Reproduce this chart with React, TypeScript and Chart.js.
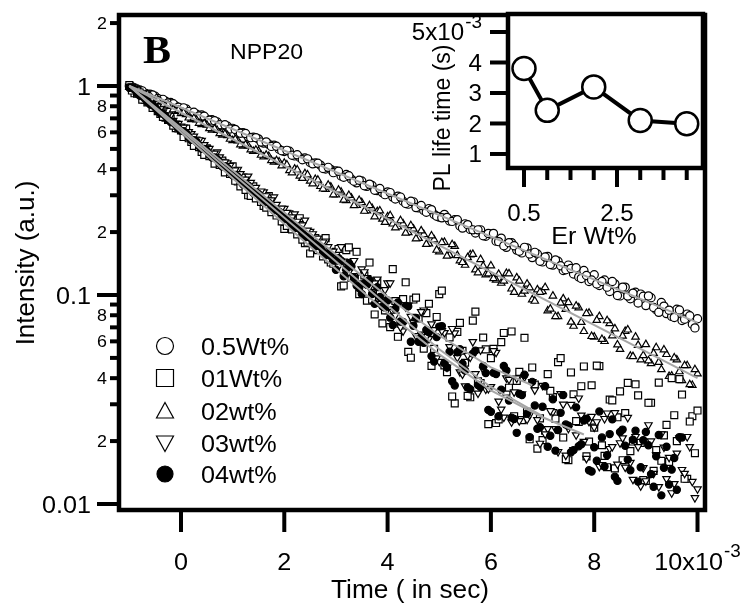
import React, { useEffect, useRef } from "react";
import { Chart, registerables } from "chart.js";
Chart.register(...registerables);

// ---------- DATA ----------
const TIME = [
  -1.0, -0.9, -0.8, -0.7, -0.6, -0.5, -0.4, -0.3, -0.2, -0.1,
  0.0, 0.1, 0.2, 0.3, 0.4, 0.5, 0.6, 0.7, 0.8, 0.9,
  1.0, 1.1, 1.2, 1.3, 1.4, 1.5, 1.6, 1.7, 1.8, 1.9,
  2.0, 2.1, 2.2, 2.3, 2.4, 2.5, 2.6, 2.7, 2.8, 2.9,
  3.0, 3.1, 3.2, 3.3, 3.4, 3.5, 3.6, 3.7, 3.8, 3.9,
  4.0, 4.1, 4.2, 4.3, 4.4, 4.5, 4.6, 4.7, 4.8, 4.9,
  5.0, 5.1, 5.2, 5.3, 5.4, 5.5, 5.6, 5.7, 5.8, 5.9,
  6.0, 6.1, 6.2, 6.3, 6.4, 6.5, 6.6, 6.7, 6.8, 6.9,
  7.0, 7.1, 7.2, 7.3, 7.4, 7.5, 7.6, 7.7, 7.8, 7.9,
  8.0, 8.1, 8.2, 8.3, 8.4, 8.5, 8.6, 8.7, 8.8, 8.9,
  9.0, 9.1, 9.2, 9.3, 9.4, 9.5, 9.6, 9.7, 9.8, 9.9,
  10.0,
];
// in-between samples, early part
const TIME_HALF_EARLY_LOW = [
  -0.95, -0.85, -0.75, -0.65, -0.55, -0.45, -0.35, -0.25, -0.15, -0.05,
  0.05, 0.15, 0.25, 0.35, 0.45, 0.55, 0.65, 0.75, 0.85, 0.95,
  1.05, 1.15, 1.25, 1.35, 1.45, 1.55, 1.65, 1.75, 1.85, 1.95,
  2.05, 2.15, 2.25, 2.35, 2.45, 2.55, 2.65, 2.75, 2.85, 2.95,
];
const TIME_HALF_EARLY_UP = [
  -0.95, -0.85, -0.75, -0.65, -0.55, -0.45, -0.35, -0.25, -0.15, -0.05,
  0.05, 0.15, 0.25, 0.35, 0.45, 0.55, 0.65, 0.75, 0.85, 0.95,
  1.05, 1.15, 1.25, 1.35, 1.45, 1.55, 1.65, 1.75, 1.85, 1.95,
  2.05, 2.15, 2.25, 2.35, 2.45, 2.55, 2.65, 2.75, 2.85, 2.95,
  3.05, 3.15, 3.25, 3.35, 3.45, 3.55, 3.65, 3.75, 3.85, 3.95,
  4.05, 4.15, 4.25, 4.35, 4.45, 4.55, 4.65, 4.75, 4.85, 4.95,
];
// in-between samples, late part
const TIME_HALF_LOW = [
  3.05, 3.15, 3.25, 3.35, 3.45, 3.55, 3.65, 3.75, 3.85, 3.95,
  4.05, 4.15, 4.25, 4.35, 4.45, 4.55, 4.65, 4.75, 4.85, 4.95,
  5.05, 5.15, 5.25, 5.35, 5.45, 5.55, 5.65, 5.75, 5.85, 5.95,
  6.05, 6.15, 6.25, 6.35, 6.45, 6.55, 6.65, 6.75, 6.85, 6.95,
  7.05, 7.15, 7.25, 7.35, 7.45, 7.55, 7.65, 7.75, 7.85, 7.95,
  8.05, 8.15, 8.25, 8.35, 8.45, 8.55, 8.65, 8.75, 8.85, 8.95,
  9.05, 9.15, 9.25, 9.35, 9.45, 9.55, 9.65, 9.75, 9.85, 9.95,
];
const TIME_HALF_UP = [
  5.05, 5.15, 5.25, 5.35, 5.45, 5.55, 5.65, 5.75, 5.85, 5.95,
  6.05, 6.15, 6.25, 6.35, 6.45, 6.55, 6.65, 6.75, 6.85, 6.95,
  7.05, 7.15, 7.25, 7.35, 7.45, 7.55, 7.65, 7.75, 7.85, 7.95,
  8.05, 8.15, 8.25, 8.35, 8.45, 8.55, 8.65, 8.75, 8.85, 8.95,
  9.05, 9.15, 9.25, 9.35, 9.45, 9.55, 9.65, 9.75, 9.85, 9.95,
];

const WT05 = [
  1.0, 0.972, 0.958, 0.922, 0.914, 0.893, 0.861, 0.846, 0.834, 0.802,
  0.781, 0.777, 0.746, 0.733, 0.726, 0.694, 0.689, 0.672, 0.645, 0.642,
  0.627, 0.603, 0.597, 0.571, 0.569, 0.558, 0.533, 0.526, 0.521, 0.498,
  0.486, 0.487, 0.463, 0.455, 0.452, 0.431, 0.428, 0.418, 0.401, 0.399,
  0.392, 0.371, 0.377, 0.358, 0.344, 0.351, 0.331, 0.334, 0.316, 0.309,
  0.311, 0.294, 0.297, 0.281, 0.272, 0.279, 0.261, 0.254, 0.259, 0.243,
  0.236, 0.243, 0.226, 0.229, 0.214, 0.219, 0.206, 0.198, 0.205, 0.191,
  0.196, 0.181, 0.187, 0.169, 0.178, 0.164, 0.159, 0.168, 0.151, 0.157,
  0.144, 0.153, 0.139, 0.145, 0.131, 0.139, 0.126, 0.122, 0.131, 0.116,
  0.125, 0.111, 0.118, 0.104, 0.113, 0.099, 0.109, 0.096, 0.103, 0.101,
  0.089, 0.097, 0.085, 0.092, 0.0815, 0.079, 0.0855, 0.0755, 0.081, 0.0725,
  0.077,
];
const WT05_HALF_EARLY = [
  0.991, 0.958, 0.948, 0.913, 0.905, 0.871, 0.863, 0.83, 0.822, 0.792,
  0.786, 0.754, 0.749, 0.719, 0.716, 0.686, 0.682, 0.653, 0.652, 0.623,
  0.62, 0.594, 0.592, 0.566, 0.566, 0.539, 0.54, 0.514, 0.515, 0.49,
  0.492, 0.466, 0.469, 0.444, 0.448, 0.424, 0.427, 0.403, 0.408, 0.385,
  0.391, 0.366, 0.372, 0.35, 0.354, 0.333, 0.339, 0.317, 0.323, 0.302,
  0.309, 0.288, 0.294, 0.274, 0.281, 0.262, 0.268, 0.249, 0.256, 0.238,
];
const WT05_HALF = [
  0.234, 0.235, 0.225, 0.229, 0.209, 0.217, 0.205, 0.205, 0.192, 0.197,
  0.197, 0.18, 0.172, 0.178, 0.172, 0.162, 0.169, 0.157, 0.16, 0.145,
  0.152, 0.14, 0.147, 0.138, 0.132, 0.134, 0.135, 0.12, 0.124, 0.118,
  0.113, 0.116, 0.109, 0.116, 0.0994, 0.109, 0.0988, 0.102, 0.0916, 0.0986,
  0.099, 0.0871, 0.0826, 0.0884, 0.0846, 0.0781, 0.0847, 0.0766, 0.0796, 0.0696,
];

const WT01 = [
  1.01, 0.923, 0.931, 0.86, 0.855, 0.789, 0.735, 0.705, 0.694, 0.628,
  0.613, 0.625, 0.54, 0.548, 0.484, 0.503, 0.469, 0.429, 0.44, 0.393,
  0.413, 0.349, 0.352, 0.3, 0.331, 0.296, 0.267, 0.297, 0.251, 0.255,
  0.207, 0.243, 0.217, 0.233, 0.177, 0.158, 0.187, 0.165, 0.187, 0.143,
  0.161, 0.11, 0.164, 0.121, 0.161, 0.12, 0.094, 0.0949, 0.116, 0.0732,
  0.0846, 0.133, 0.0631, 0.0955, 0.0534, 0.0951, 0.0772, 0.0554, 0.0908, 0.0552,
  0.101, 0.046, 0.0627, 0.0303, 0.0735, 0.0474, 0.0324, 0.0832, 0.0379, 0.0549,
  0.0499, 0.0244, 0.0595, 0.0345, 0.0669, 0.0388, 0.0252, 0.0276, 0.045, 0.0184,
  0.0202, 0.0418, 0.0325, 0.0477, 0.0208, 0.0162, 0.0335, 0.0247, 0.0455, 0.0199,
  0.0232, 0.0457, 0.017, 0.0316, 0.0148, 0.0346, 0.0272, 0.0179, 0.0374, 0.0196,
  0.0129, 0.0305, 0.0181, 0.0161, 0.0239, 0.04, 0.02, 0.0334, 0.0132, 0.0263,
  0.028,
];
const WT01_HALF_EARLY = [
  0.951, 0.918, 0.861, 0.835, 0.785, 0.757, 0.711, 0.688, 0.646, 0.626,
  0.57, 0.562, 0.517, 0.51, 0.468, 0.462, 0.425, 0.419, 0.386, 0.38,
  0.352, 0.331, 0.318, 0.298, 0.29, 0.279, 0.262, 0.249, 0.24, 0.225,
  0.214, 0.206, 0.195, 0.184, 0.178, 0.169, 0.164, 0.153, 0.148, 0.141,
];
const WT01_HALF = [
  0.166, 0.111, 0.169, 0.122, 0.101, 0.124, 0.143, 0.0807, 0.104, 0.0843,
  0.0702, 0.0936, 0.0729, 0.115, 0.0501, 0.0971, 0.064, 0.0819, 0.0458, 0.0785,
  0.105, 0.0427, 0.0327, 0.0666, 0.0541, 0.0329, 0.0754, 0.0386, 0.0626, 0.0241,
  0.0552, 0.0254, 0.0658, 0.036, 0.0263, 0.0429, 0.0624, 0.0204, 0.0373, 0.0257,
  0.0224, 0.0348, 0.0256, 0.0499, 0.0164, 0.0426, 0.0249, 0.0366, 0.0169, 0.037,
  0.0459, 0.0191, 0.015, 0.0313, 0.026, 0.0162, 0.038, 0.0199, 0.0331, 0.013,
  0.0305, 0.0144, 0.0381, 0.0213, 0.0159, 0.0266, 0.0396, 0.0132, 0.0248, 0.0175,
];

const WT02 = [
  0.985, 0.966, 0.951, 0.905, 0.897, 0.852, 0.846, 0.803, 0.801, 0.758,
  0.739, 0.731, 0.692, 0.689, 0.655, 0.651, 0.616, 0.614, 0.583, 0.58,
  0.549, 0.547, 0.516, 0.517, 0.487, 0.489, 0.459, 0.461, 0.433, 0.434,
  0.428, 0.394, 0.401, 0.371, 0.381, 0.351, 0.358, 0.331, 0.321, 0.329,
  0.302, 0.311, 0.283, 0.291, 0.269, 0.277, 0.253, 0.26, 0.251, 0.231,
  0.237, 0.219, 0.212, 0.219, 0.199, 0.207, 0.187, 0.195, 0.176, 0.184,
  0.161, 0.179, 0.155, 0.171, 0.146, 0.139, 0.156, 0.132, 0.148, 0.125,
  0.138, 0.118, 0.114, 0.127, 0.107, 0.121, 0.101, 0.113, 0.095, 0.106,
  0.104, 0.084, 0.099, 0.079, 0.096, 0.092, 0.071, 0.087, 0.067, 0.082,
  0.063, 0.079, 0.06, 0.073, 0.069, 0.055, 0.067, 0.051, 0.063, 0.049,
  0.058, 0.047, 0.056, 0.044, 0.052, 0.041, 0.049, 0.039, 0.046, 0.037,
  0.042,
];
const WT02_HALF_EARLY = [
  0.971, 0.966, 0.918, 0.913, 0.866, 0.86, 0.818, 0.811, 0.771, 0.765,
  0.744, 0.704, 0.701, 0.664, 0.662, 0.626, 0.625, 0.592, 0.589, 0.557,
  0.556, 0.524, 0.524, 0.495, 0.494, 0.467, 0.467, 0.44, 0.44, 0.415,
  0.42, 0.385, 0.397, 0.362, 0.376, 0.341, 0.355, 0.322, 0.336, 0.302,
  0.318, 0.285, 0.3, 0.268, 0.284, 0.252, 0.268, 0.237, 0.253, 0.223,
  0.24, 0.21, 0.227, 0.198, 0.215, 0.186, 0.203, 0.175, 0.192, 0.164,
];
const WT02_HALF = [
  0.1785, 0.1537, 0.1743, 0.1546, 0.1433, 0.1511, 0.1567, 0.1279, 0.1376, 0.1263,
  0.12, 0.1258, 0.1168, 0.1265, 0.1031, 0.1168, 0.1046, 0.1084, 0.0935, 0.1032,
  0.1087, 0.0858, 0.0789, 0.0916, 0.0854, 0.0743, 0.0887, 0.074, 0.0815, 0.0634,
  0.0757, 0.0614, 0.0754, 0.0638, 0.0578, 0.0636, 0.0681, 0.0508, 0.0575, 0.0514,
  0.0485, 0.0526, 0.0477, 0.0547, 0.0408, 0.0501, 0.043, 0.046, 0.0373, 0.044,
];

const WT03 = [
  0.995, 0.985, 0.909, 0.901, 0.821, 0.826, 0.777, 0.723, 0.722, 0.663,
  0.642, 0.601, 0.591, 0.533, 0.548, 0.505, 0.469, 0.483, 0.435, 0.428,
  0.382, 0.399, 0.37, 0.37, 0.321, 0.298, 0.311, 0.286, 0.294, 0.255,
  0.259, 0.221, 0.244, 0.214, 0.228, 0.201, 0.179, 0.175, 0.181, 0.15,
  0.151, 0.17, 0.128, 0.143, 0.114, 0.133, 0.121, 0.104, 0.119, 0.0977,
  0.114, 0.0834, 0.0902, 0.0672, 0.0894, 0.0739, 0.0624, 0.0846, 0.0618, 0.0682,
  0.0481, 0.066, 0.0565, 0.0657, 0.0428, 0.0367, 0.0503, 0.042, 0.0545, 0.0354,
  0.0364, 0.0531, 0.0284, 0.0401, 0.0247, 0.04, 0.0336, 0.0254, 0.0384, 0.0253,
  0.0369, 0.0229, 0.0276, 0.0178, 0.03, 0.023, 0.0182, 0.0321, 0.0199, 0.0248,
  0.0233, 0.0151, 0.0256, 0.0184, 0.0273, 0.0196, 0.015, 0.0158, 0.021, 0.0122,
  0.0129, 0.02, 0.0172, 0.0216, 0.0132, 0.0113, 0.0175, 0.0146, 0.021, 0.0128,
  0.0118,
];
const WT03_HALF_EARLY = [
  1.0, 0.963, 0.908, 0.878, 0.824, 0.8, 0.75, 0.727, 0.684, 0.662,
  0.634, 0.604, 0.575, 0.552, 0.523, 0.502, 0.477, 0.457, 0.433, 0.416,
  0.396, 0.38, 0.358, 0.345, 0.327, 0.314, 0.298, 0.285, 0.271, 0.26,
  0.248, 0.236, 0.225, 0.216, 0.204, 0.196, 0.187, 0.179, 0.17, 0.162,
];
const WT03_HALF = [
  0.137, 0.145, 0.129, 0.146, 0.107, 0.129, 0.109, 0.114, 0.091, 0.106,
  0.114, 0.0799, 0.0702, 0.0877, 0.0788, 0.0638, 0.0831, 0.0632, 0.0727, 0.0499,
  0.0674, 0.0451, 0.069, 0.0502, 0.0418, 0.0514, 0.0597, 0.0339, 0.044, 0.0356,
  0.0541, 0.031, 0.026, 0.0394, 0.0343, 0.025, 0.0405, 0.0267, 0.0351, 0.0195,
  0.0216, 0.0279, 0.0229, 0.0337, 0.0171, 0.0299, 0.0214, 0.0266, 0.0165, 0.0262,
  0.0247, 0.0154, 0.0272, 0.0188, 0.0155, 0.0207, 0.0259, 0.0131, 0.0188, 0.0149,
  0.0239, 0.014, 0.0121, 0.0187, 0.0167, 0.0125, 0.0207, 0.014, 0.0188, 0.0107,
];

const WT04 = [
  0.98, 0.962, 0.901, 0.871, 0.817, 0.79, 0.741, 0.719, 0.672, 0.653,
  0.61, 0.595, 0.552, 0.541, 0.501, 0.49, 0.455, 0.446, 0.412, 0.405,
  0.374, 0.368, 0.339, 0.334, 0.308, 0.304, 0.278, 0.276, 0.254, 0.25,
  0.231, 0.227, 0.209, 0.207, 0.189, 0.188, 0.171, 0.17, 0.155, 0.155,
  0.132, 0.146, 0.133, 0.137, 0.111, 0.101, 0.112, 0.101, 0.109, 0.0883,
  0.0942, 0.0719, 0.0921, 0.0743, 0.0882, 0.0713, 0.0597, 0.059, 0.0663, 0.048,
  0.0706, 0.0473, 0.0535, 0.0369, 0.055, 0.0435, 0.0354, 0.0542, 0.0363, 0.0423,
  0.0276, 0.0419, 0.0352, 0.0435, 0.0259, 0.0219, 0.0332, 0.0271, 0.0384, 0.0229,
  0.0292, 0.0188, 0.0317, 0.0226, 0.0332, 0.0237, 0.0181, 0.0189, 0.0251, 0.0145,
  0.0187, 0.0277, 0.0151, 0.0216, 0.0135, 0.0221, 0.019, 0.0145, 0.0224, 0.015,
  0.0221, 0.0139, 0.0169, 0.011, 0.0188, 0.0146, 0.0117, 0.0208, null, null,
  null,
];
const WT04_HALF_EARLY = [
  0.983, 0.921, 0.892, 0.838, 0.81, 0.761, 0.737, 0.689, 0.668, 0.627,
  0.608, 0.569, 0.551, 0.516, 0.5, 0.469, 0.455, 0.425, 0.413, 0.385,
  0.375, 0.349, 0.34, 0.318, 0.309, 0.288, 0.28, 0.261, 0.255, 0.237,
  0.231, 0.215, 0.21, 0.196, 0.19, 0.177, 0.173, 0.161, 0.157, 0.146,
];
const WT04_HALF = [
  0.15, 0.123, 0.142, 0.121, 0.108, 0.114, 0.118, 0.0907, 0.0979, 0.0872,
  0.0779, 0.086, 0.0747, 0.0887, 0.0597, 0.0777, 0.0628, 0.068, 0.051, 0.0629,
  0.071, 0.045, 0.0387, 0.0532, 0.0469, 0.0361, 0.0524, 0.0371, 0.0457, 0.0282,
  0.0424, 0.0263, 0.0457, 0.0313, 0.0255, 0.0337, 0.0415, 0.0209, 0.0296, 0.0233,
  0.0366, 0.0212, 0.018, 0.0273, 0.024, 0.0177, 0.029, 0.0193, 0.0256, 0.0143,
  0.0161, 0.0208, 0.0171, 0.0254, 0.0129, 0.0227, 0.0163, 0.0203, 0.0128, 0.0202,
  0.0191, 0.0121, 0.0214, 0.0149, 0.0124, 0.0166, 0.0209, null, null, null,
];

// fit curves
const FIT05_T = [-1.0, 10.0];
const FIT05 = [1.0, 0.0738];
const FIT02_T = [-1.0, 10.0];
const FIT02 = [1.0, 0.04];
const FIT01_T = [-1, 0, 1, 2, 3, 4, 5, 6, 6.8];
const FIT01 = [1.0, 0.63, 0.395, 0.248, 0.156, 0.098, 0.064, 0.045, 0.037];
const FIT03_T = [-1, 0, 1, 2, 3, 4, 5, 6, 7, 7.8];
const FIT03 = [1.0, 0.6, 0.362, 0.219, 0.133, 0.082, 0.052, 0.035, 0.026, 0.0215];
const FIT04_T = [-1, 0, 1, 2, 3, 4, 5, 6, 7];
const FIT04 = [1.0, 0.617, 0.38, 0.234, 0.1445, 0.0891, 0.055, 0.0363, 0.0263];

const LEGEND_LABELS = ["0.5Wt%", "01Wt%", "02wt%", "03wt%", "04wt%"];

const X_TICKS = [0, 2, 4, 6, 8, 10];
const X_TICK_LABELS = ["0", "2", "4", "6", "8", "10x10"];
const Y_MAJOR = [0.01, 0.1, 1];
const Y_MAJOR_LABELS = ["0.01", "0.1", "1"];
const Y_MINOR = [0.02, 0.03, 0.04, 0.05, 0.06, 0.07, 0.08, 0.09, 0.2, 0.3, 0.4, 0.5, 0.6, 0.7, 0.8, 0.9, 2];
const Y_MINOR_LABELED = [0.02, 0.04, 0.06, 0.08, 0.2, 0.4, 0.6, 0.8, 2];
const Y_MINOR_LABELS = ["2", "4", "6", "8", "2", "4", "6", "8", "2"];

// inset
const ER_WT = [0.5, 1.0, 2.0, 3.0, 4.0];
const PL_LIFETIME = [3.8, 2.43, 3.2, 2.1, 1.99]; // x10^-3 s
const INSET_Y_TICKS = [1, 2, 3, 4, 5];
const INSET_Y_LABELS = ["1", "2", "3", "4", "5x10"];
const INSET_X_TICKS = [0.5, 1.0, 1.5, 2.0, 2.5, 3.0, 3.5, 4.0];
const INSET_X_MAJOR = [0.5, 2.5];
const INSET_X_LABELS = ["0.5", "2.5"];

// ---------- STYLE ----------
const SANS = '"Liberation Sans", Arial, Helvetica, sans-serif';
const SERIF = '"Liberation Serif", "Times New Roman", serif';
const SX = 1.05;
const FIT_GRAY = "#a6a6a6";

function txt(
  ctx: CanvasRenderingContext2D,
  s: string,
  x: number,
  yc: number,
  size: number,
  align: CanvasTextAlign = "center",
  rot = 0,
  family = SANS,
  weight = "normal"
) {
  ctx.save();
  ctx.translate(x, yc);
  if (rot) ctx.rotate(rot);
  else ctx.scale(SX, 1);
  ctx.font = `${weight} ${size}px ${family}`;
  ctx.textAlign = align;
  ctx.textBaseline = "alphabetic";
  ctx.fillStyle = "#000";
  ctx.fillText(s, 0, size * 0.358);
  ctx.restore();
}

function textWidth(ctx: CanvasRenderingContext2D, s: string, size: number) {
  ctx.save();
  ctx.font = `normal ${size}px ${SANS}`;
  const w = ctx.measureText(s).width * SX;
  ctx.restore();
  return w;
}

function seg(ctx: CanvasRenderingContext2D, x1: number, y1: number, x2: number, y2: number) {
  ctx.beginPath();
  ctx.moveTo(x1, y1);
  ctx.lineTo(x2, y2);
  ctx.stroke();
}

function legendSymbol(ctx: CanvasRenderingContext2D, kind: string, x: number, y: number) {
  ctx.save();
  ctx.lineWidth = 1.2;
  ctx.strokeStyle = "#000";
  ctx.fillStyle = "#fff";
  ctx.beginPath();
  if (kind === "circle") {
    ctx.arc(x, y, 8.5, 0, Math.PI * 2);
  } else if (kind === "rect") {
    ctx.rect(x - 8.5, y - 8.5, 17, 17);
  } else if (kind === "tri") {
    ctx.moveTo(x, y - 8.5);
    ctx.lineTo(x + 8.5, y + 7);
    ctx.lineTo(x - 8.5, y + 7);
    ctx.closePath();
  } else if (kind === "tridown") {
    ctx.moveTo(x, y + 8.5);
    ctx.lineTo(x + 8.5, y - 7);
    ctx.lineTo(x - 8.5, y - 7);
    ctx.closePath();
  } else {
    ctx.arc(x, y, 8, 0, Math.PI * 2);
    ctx.fillStyle = "#000";
  }
  ctx.fill();
  ctx.stroke();
  ctx.restore();
}

const LEGEND_KINDS = ["circle", "rect", "tri", "tridown", "dot"];

const mainDecor = {
  id: "mainDecor",
  afterDraw(chart: any) {
    const ctx: CanvasRenderingContext2D = chart.ctx;
    const a = chart.chartArea;
    const xs = chart.scales.x;
    const ys = chart.scales.y;
    ctx.save();
    ctx.strokeStyle = "#000";
    ctx.lineJoin = "miter";
    ctx.lineWidth = 4.5;
    ctx.strokeRect(a.left, a.top, a.right - a.left, a.bottom - a.top);

    ctx.lineWidth = 4;
    X_TICKS.forEach((v, i) => {
      const px = xs.getPixelForValue(v);
      seg(ctx, px, a.bottom, px, a.bottom + 22);
      const lab = X_TICK_LABELS[i];
      const yc = a.bottom + 51;
      if (i === X_TICKS.length - 1) {
        const w1 = textWidth(ctx, lab, 24);
        const w2 = textWidth(ctx, "-3", 18);
        const start = px - (w1 + w2 + 1) / 2;
        txt(ctx, lab, start, yc, 24, "left");
        txt(ctx, "-3", start + w1 + 1, yc - 10, 18, "left");
      } else {
        txt(ctx, lab, px, yc, 24, "center");
      }
    });

    Y_MAJOR.forEach((v, i) => {
      const py = ys.getPixelForValue(v);
      seg(ctx, a.left - 22, py, a.left, py);
      txt(ctx, Y_MAJOR_LABELS[i], a.left - 28, py, 24, "right");
    });
    Y_MINOR.forEach((v) => {
      const py = ys.getPixelForValue(v);
      seg(ctx, a.left - 9, py, a.left, py);
    });
    Y_MINOR_LABELED.forEach((v, i) => {
      const py = ys.getPixelForValue(v);
      txt(ctx, Y_MINOR_LABELS[i], a.left - 12, py, 17, "right");
    });

    txt(ctx, "Intensity (a.u.)", 25, 263, 26, "center", -Math.PI / 2);
    txt(ctx, "Time ( in sec)", 410, 589, 25, "center");

    txt(ctx, "B", 143, 49, 40, "left", 0, SERIF, "bold");
    txt(ctx, "NPP20", 230, 51, 22, "left");

    const rows = [346, 378, 411, 443, 474];
    LEGEND_LABELS.forEach((lab, i) => {
      legendSymbol(ctx, LEGEND_KINDS[i], 165, rows[i]);
      txt(ctx, lab, 201, rows[i], 24, "left");
    });
    ctx.restore();
  },
};

const insetDecor = {
  id: "insetDecor",
  beforeDatasetsDraw(chart: any) {
    const ctx: CanvasRenderingContext2D = chart.ctx;
    const a = chart.chartArea;
    ctx.save();
    ctx.fillStyle = "#fff";
    ctx.fillRect(a.left, a.top, a.right - a.left, a.bottom - a.top);
    ctx.restore();
  },
  afterDraw(chart: any) {
    const ctx: CanvasRenderingContext2D = chart.ctx;
    const a = chart.chartArea;
    const xs = chart.scales.x;
    const ys = chart.scales.y;
    ctx.save();
    ctx.strokeStyle = "#000";
    ctx.lineWidth = 4.5;
    ctx.strokeRect(a.left, a.top, a.right - a.left, a.bottom - a.top);
    ctx.lineWidth = 4;
    INSET_Y_TICKS.forEach((v, i) => {
      const py = ys.getPixelForValue(v);
      seg(ctx, a.left - 18, py, a.left, py);
      const lab = INSET_Y_LABELS[i];
      if (i === INSET_Y_TICKS.length - 1) {
        const w2 = textWidth(ctx, "-3", 18);
        txt(ctx, "-3", a.left - 26, py - 10, 18, "right");
        txt(ctx, lab, a.left - 26 - w2 - 1, py, 23, "right");
      } else {
        txt(ctx, lab, a.left - 26, py, 23, "right");
      }
    });
    INSET_X_TICKS.forEach((v) => {
      const px = xs.getPixelForValue(v);
      const major = INSET_X_MAJOR.indexOf(v) >= 0;
      seg(ctx, px, a.bottom, px, a.bottom + (major ? 19 : 12));
    });
    INSET_X_MAJOR.forEach((v, i) => {
      const px = xs.getPixelForValue(v);
      txt(ctx, INSET_X_LABELS[i], px, a.bottom + 45, 23, "center");
    });
    txt(ctx, "Er Wt%", 194, a.bottom + 67, 24, "center");
    txt(ctx, "PL life time (s)", 42, 118, 23, "center", -Math.PI / 2);
    ctx.restore();
  },
};

function pts(xs: number[], ys: (number | null)[]) {
  const out: { x: number; y: number }[] = [];
  xs.forEach((x, i) => {
    const y = ys[i];
    if (y !== null && y !== undefined) out.push({ x, y });
  });
  return out;
}

export default function App() {
  const mainRef = useRef<HTMLCanvasElement>(null);
  const insetRef = useRef<HTMLCanvasElement>(null);

  useEffect(() => {
    document.body.style.margin = "0";
    const scatterBase = {
      showLine: false,
      pointBorderColor: "#000",
      pointBorderWidth: 1.2,
      pointBackgroundColor: "#fff",
    };
    const fitBase = {
      showLine: true,
      pointRadius: 0,
      borderColor: FIT_GRAY,
      borderWidth: 2,
      order: 0,
    };
    const main = new Chart(mainRef.current as HTMLCanvasElement, {
      type: "scatter",
      data: {
        datasets: [
          { ...fitBase, label: "fit05", data: pts(FIT05_T, FIT05) },
          { ...fitBase, label: "fit02", data: pts(FIT02_T, FIT02) },
          { ...fitBase, label: "fit01", data: pts(FIT01_T, FIT01) },
          { ...fitBase, label: "fit03", data: pts(FIT03_T, FIT03) },
          { ...fitBase, label: "fit04", data: pts(FIT04_T, FIT04) },
          {
            ...scatterBase,
            label: LEGEND_LABELS[4],
            data: pts(TIME, WT04).concat(pts(TIME_HALF_EARLY_LOW, WT04_HALF_EARLY), pts(TIME_HALF_LOW, WT04_HALF)),
            pointStyle: "circle",
            pointRadius: 3.6,
            pointBackgroundColor: "#000",
            order: 1,
          },
          {
            ...scatterBase,
            label: LEGEND_LABELS[3],
            data: pts(TIME, WT03).concat(pts(TIME_HALF_EARLY_LOW, WT03_HALF_EARLY), pts(TIME_HALF_LOW, WT03_HALF)),
            pointStyle: "triangle",
            rotation: 180,
            pointRadius: 4.3,
            order: 2,
          },
          {
            ...scatterBase,
            label: LEGEND_LABELS[1],
            data: pts(TIME, WT01).concat(pts(TIME_HALF_EARLY_LOW, WT01_HALF_EARLY), pts(TIME_HALF_LOW, WT01_HALF)),
            pointStyle: "rect",
            pointRadius: 4.9,
            order: 3,
          },
          {
            ...scatterBase,
            label: LEGEND_LABELS[2],
            data: pts(TIME, WT02).concat(pts(TIME_HALF_EARLY_UP, WT02_HALF_EARLY), pts(TIME_HALF_UP, WT02_HALF)),
            pointStyle: "triangle",
            pointRadius: 4.3,
            order: 4,
          },
          {
            ...scatterBase,
            label: LEGEND_LABELS[0],
            data: pts(TIME, WT05).concat(pts(TIME_HALF_EARLY_UP, WT05_HALF_EARLY), pts(TIME_HALF_UP, WT05_HALF)),
            pointStyle: "circle",
            pointRadius: 4.1,
            order: 5,
          },
        ] as any,
      },
      options: {
        responsive: false,
        maintainAspectRatio: false,
        animation: false,
        events: [],
        layout: { padding: { left: 0, right: 43, top: 15, bottom: 0 } },
        plugins: { legend: { display: false }, tooltip: { enabled: false } },
        scales: {
          x: {
            type: "linear",
            min: -1.2,
            max: 10.145,
            grid: { display: false },
            border: { display: false },
            ticks: { display: false },
            afterFit: (s: any) => {
              s.height = 96;
            },
          },
          y: {
            type: "logarithmic",
            min: 0.00936,
            max: 2.186,
            grid: { display: false },
            border: { display: false },
            ticks: { display: false },
            afterFit: (s: any) => {
              s.width = 119;
            },
          },
        },
      } as any,
      plugins: [mainDecor],
    });

    const inset = new Chart(insetRef.current as HTMLCanvasElement, {
      type: "scatter",
      data: {
        datasets: [
          {
            label: "PL life time",
            data: pts(ER_WT, PL_LIFETIME),
            showLine: true,
            borderColor: "#000",
            borderWidth: 4,
            pointStyle: "circle",
            pointRadius: 11.5,
            pointBorderWidth: 2.5,
            pointBorderColor: "#000",
            pointBackgroundColor: "#fff",
          },
        ] as any,
      },
      options: {
        responsive: false,
        maintainAspectRatio: false,
        animation: false,
        events: [],
        layout: { padding: { left: 0, right: 45, top: 14, bottom: 0 } },
        plugins: { legend: { display: false }, tooltip: { enabled: false } },
        scales: {
          x: {
            type: "linear",
            min: 0.156,
            max: 4.35,
            grid: { display: false },
            border: { display: false },
            ticks: { display: false },
            afterFit: (s: any) => {
              s.height = 92;
            },
          },
          y: {
            type: "linear",
            min: 0.54,
            max: 5.59,
            grid: { display: false },
            border: { display: false },
            ticks: { display: false },
            afterFit: (s: any) => {
              s.width = 108;
            },
          },
        },
      } as any,
      plugins: [insetDecor],
    });

    return () => {
      main.destroy();
      inset.destroy();
    };
  }, []);

  return (
    <div style={{ position: "relative", width: 748, height: 606, background: "#fff" }}>
      <canvas
        ref={mainRef}
        width={748}
        height={606}
        style={{ position: "absolute", left: 0, top: 0, width: 748, height: 606 }}
      />
      <canvas
        ref={insetRef}
        width={348}
        height={260}
        style={{ position: "absolute", left: 400, top: 0, width: 348, height: 260 }}
      />
    </div>
  );
}
